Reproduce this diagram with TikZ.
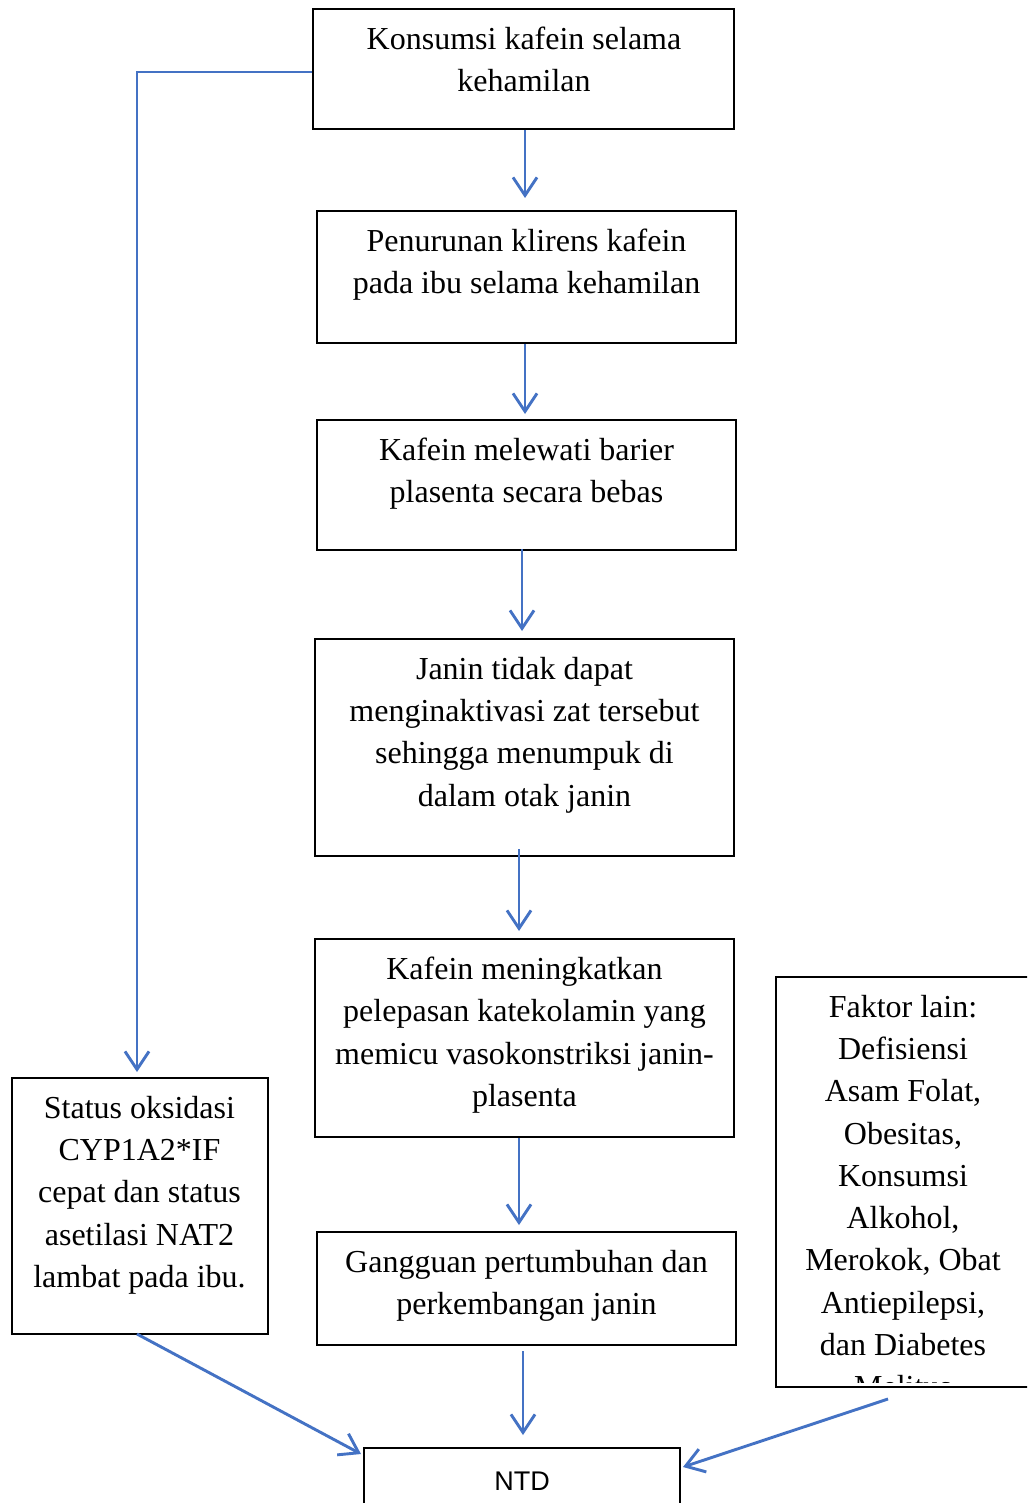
\documentclass[tikz,border=0pt]{standalone}
\usepackage{fontspec}
\setmainfont{Liberation Serif}
\newfontfamily\ntdfont{Liberation Sans}
\usetikzlibrary{arrows.meta,calc}
\definecolor{wordblue}{RGB}{68,114,196}
\begin{document}
\begin{tikzpicture}[x=0.5pt,y=-0.5pt,
  box/.style={draw=black,line width=1pt,inner sep=0pt},
  txt/.style={anchor=north,align=center,inner sep=0pt,font=\fontsize{16}{21.15}\selectfont,execute at begin node=\strut},
  arr/.style={draw=wordblue,line width=1.45pt,-{Straight Barb[length=9pt,width=12pt,line width=1.45pt]}}]
\clip (0,0) rectangle (1027,1503);
\fill[white] (0,0) rectangle (1027,1503);
% boxes
\node[box,minimum width=210.5pt,minimum height=60pt] (b1) at (523.5,69) {};
\node[box,minimum width=209.5pt,minimum height=66pt] (b2) at (526.5,277) {};
\node[box,minimum width=209.5pt,minimum height=65pt] (b3) at (526.5,485) {};
\node[box,minimum width=209.5pt,minimum height=108.5pt] (b4) at (524.5,747.5) {};
\node[box,minimum width=209.5pt,minimum height=99pt] (b5) at (524.5,1038) {};
\node[box,minimum width=209.5pt,minimum height=56.5pt] (b6) at (526.5,1288.5) {};
\node[box,minimum width=158pt,minimum height=41pt] (ntd) at (522,1489) {};
\node[box,minimum width=128pt,minimum height=128pt] (lb) at (140,1206) {};
\node[box,minimum width=132pt,minimum height=205pt] (fk) at (908,1182) {};
% texts
\node[txt] (t1) at (524,26.5) {Konsumsi kafein selama\\kehamilan};
\node[txt] (t2) at (526.5,228.5) {Penurunan klirens kafein\\pada ibu selama kehamilan};
\node[txt] (t3) at (526.5,437.5) {Kafein melewati barier\\plasenta secara bebas};
\node[txt] (t4) at (524.5,656.5) {Janin tidak dapat\\menginaktivasi zat tersebut\\sehingga menumpuk di\\dalam otak janin};
\node[txt] (t5) at (524.5,956.5) {Kafein meningkatkan\\pelepasan katekolamin yang\\memicu vasokonstriksi janin-\\plasenta};
\node[txt] (t6) at (526.5,1249.5) {Gangguan pertumbuhan dan\\perkembangan janin};
\node[txt] (tl) at (139.5,1095.5) {Status oksidasi\\CYP1A2*IF\\cepat dan status\\asetilasi NAT2\\lambat pada ibu.};
\begin{scope}
\clip (777,978) rectangle (1040,1382);
\node[txt] (tf) at (903,994.5) {Faktor lain:\\Defisiensi\\Asam Folat,\\Obesitas,\\Konsumsi\\Alkohol,\\Merokok, Obat\\Antiepilepsi,\\dan Diabetes\\Melitus};
\end{scope}
\node[anchor=base,inner sep=0pt,font=\ntdfont\fontsize{13.5}{16}\selectfont] (tn) at (522,1490) {NTD};
% connectors
\draw[arr,shorten >=2.5pt] ($(b1.west)+(0,3)$) -| ([xshift=-1.5pt]lb.north);
\draw[arr,shorten >=6pt] ([xshift=0.75pt]b1.south) -- ([xshift=0.75pt]b1.south |- b2.north);
\draw[arr,shorten >=2.5pt] ([xshift=-0.75pt]b2.south) -- ([xshift=-0.75pt]b2.south |- b3.north);
\draw[arr,shorten <=-1pt,shorten >=3.5pt] ([xshift=-2.25pt]b3.south) -- ([xshift=-2.25pt]b3.south |- b4.north);
\draw[arr,shorten <=-4pt,shorten >=3.5pt] ([xshift=-2.75pt]b4.south) -- ([xshift=-2.75pt]b4.south |- b5.north);
\draw[arr,shorten >=3pt] ([xshift=-2.75pt]b5.south) -- ([xshift=-2.75pt]b5.south |- b6.north);
\draw[arr,shorten <=2.5pt,shorten >=6pt] ([xshift=-1.75pt]b6.south) -- ([xshift=-1.75pt]b6.south |- ntd.north);
\draw[arr] ($(lb.south)+(-3,-1)$) -- ($(ntd.north west)+(-2,7)$);
\draw[arr] ($(fk.south)+(-20,11)$) -- ($(ntd.north east)+(2,20)$);
\end{tikzpicture}
\end{document}
